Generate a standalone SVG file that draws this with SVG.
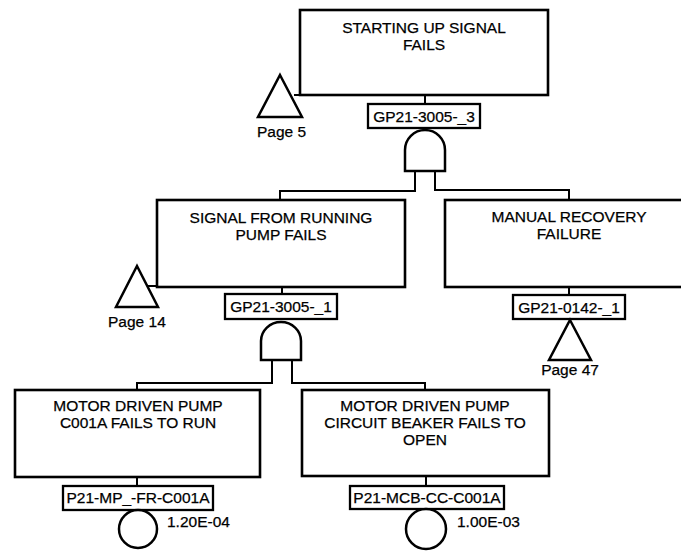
<svg xmlns="http://www.w3.org/2000/svg" width="681" height="551" viewBox="0 0 681 551">
  <style>
    .box { fill: #fff; stroke: #000; stroke-width: 2.6; }
    .tag { fill: #fff; stroke: #000; stroke-width: 2.3; }
    .gate { fill: #fff; stroke: #000; stroke-width: 2.5; }
    .wire { fill: none; stroke: #000; stroke-width: 2; }
    text { font-family: "Liberation Sans", Arial, sans-serif; font-size: 15.5px; fill: #000; stroke: #000; stroke-width: 0.25; }
    .c { text-anchor: middle; }
  </style>
  <rect width="681" height="551" fill="#fff"/>

  <!-- connectors -->
  <g id="connectors">
    <path class="wire" d="M425,95 V104"/>
    <path class="wire" d="M415,171 V191 H280 V200"/>
    <path class="wire" d="M435,171 V190 H569 V200"/>
    <path class="wire" d="M282,287 V294"/>
    <path class="wire" d="M272,360 V383 H137 V390"/>
    <path class="wire" d="M292,360 V383 H425 V390"/>
    <path class="wire" d="M569,287 V295"/>
    <path class="wire" d="M137,477 V486"/>
    <path class="wire" d="M426,476 V486"/>
    <path class="wire" d="M294,95 H300"/>
    <path class="wire" d="M147,286 H157"/>
  </g>

  <!-- top event -->
  <g id="top-event">
    <rect class="box" x="300" y="10" width="248" height="85"/>
    <text class="c" x="424" y="33">STARTING UP SIGNAL</text>
    <text class="c" x="424" y="50">FAILS</text>
    <rect class="tag" x="368" y="104" width="112" height="24"/>
    <text class="c" x="424" y="122">GP21-3005-_3</text>
    <path class="gate" d="M405,171 V150 A20,20 0 0 1 445,150 V171 Z"/>
  </g>
  <g id="transfer-page5">
    <polygon class="gate" points="280,75 302,117 258,117"/>
    <text x="257" y="137">Page 5</text>
  </g>

  <!-- signal from running pump -->
  <g id="signal-running-pump">
    <rect class="box" x="157" y="200" width="248" height="87"/>
    <text class="c" x="281" y="223">SIGNAL FROM RUNNING</text>
    <text class="c" x="281" y="240">PUMP FAILS</text>
    <rect class="tag" x="225" y="294" width="112" height="25"/>
    <text class="c" x="281" y="312">GP21-3005-_1</text>
    <path class="gate" d="M261,360 V341 A20,19 0 0 1 301,341 V360 Z"/>
  </g>
  <g id="transfer-page14">
    <polygon class="gate" points="137,266 158,307 116,307"/>
    <text x="108" y="327">Page 14</text>
  </g>

  <!-- manual recovery -->
  <g id="manual-recovery">
    <rect class="box" x="445" y="200" width="248" height="87"/>
    <text class="c" x="569" y="222">MANUAL RECOVERY</text>
    <text class="c" x="569" y="239">FAILURE</text>
    <rect class="tag" x="513" y="295" width="112" height="24"/>
    <text class="c" x="569" y="313">GP21-0142-_1</text>
    <polygon class="gate" points="570,320 591,360 549,360"/>
    <text class="c" x="570" y="375">Page 47</text>
  </g>

  <!-- basic events -->
  <g id="pump-fails-to-run">
    <rect class="box" x="15" y="390" width="245" height="87"/>
    <text class="c" x="138" y="411">MOTOR DRIVEN PUMP</text>
    <text class="c" x="138" y="428">C001A FAILS TO RUN</text>
    <rect class="tag" x="63" y="486" width="150" height="24"/>
    <text class="c" x="138" y="503">P21-MP_-FR-C001A</text>
    <circle class="gate" cx="138" cy="529" r="19"/>
    <text x="167" y="527">1.20E-04</text>
  </g>
  <g id="breaker-fails-to-open">
    <rect class="box" x="302" y="390" width="247" height="86"/>
    <text class="c" x="425" y="411">MOTOR DRIVEN PUMP</text>
    <text class="c" x="425" y="428">CIRCUIT BEAKER FAILS TO</text>
    <text class="c" x="425" y="445">OPEN</text>
    <rect class="tag" x="350" y="486" width="154" height="23"/>
    <text class="c" x="427" y="503">P21-MCB-CC-C001A</text>
    <circle class="gate" cx="426" cy="529" r="20"/>
    <text x="457" y="527">1.00E-03</text>
  </g>
</svg>
